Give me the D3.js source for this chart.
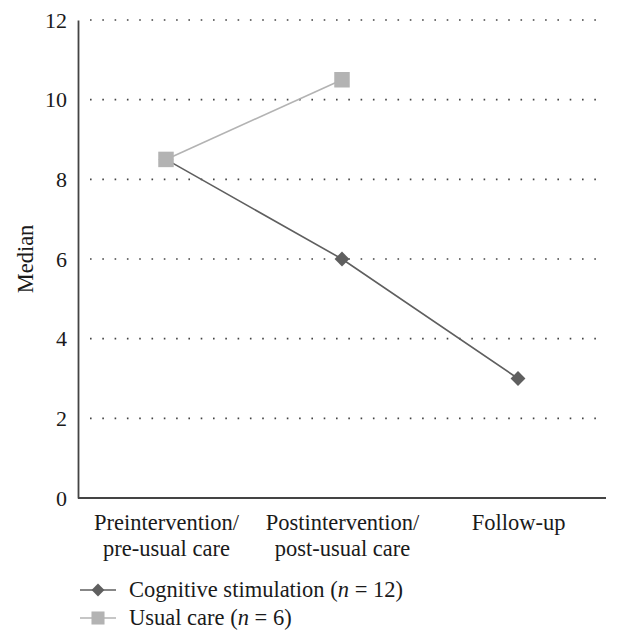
<!DOCTYPE html>
<html><head><meta charset="utf-8">
<script src="https://cdn.jsdelivr.net/npm/d3@7"></script>
<style>body{margin:0;background:#fff;} text{font-family:"Liberation Serif","DejaVu Serif",serif;fill:#1a1a1a;}</style>
</head><body>
<svg id="c" width="619" height="643"></svg>
<script>
const categories = ["Preintervention/|pre-usual care", "Postintervention/|post-usual care", "Follow-up"];
const cognitiveValues = [8.5, 6, 3];
const usualValues = [8.5, 10.5];
const yTicks = [0, 2, 4, 6, 8, 10, 12];
const seriesNames = ["Cognitive stimulation", "Usual care"];
const seriesN = [12, 6];

const svg = d3.select("#c");
const L = 78, R = 606, T = 20, B = 498;
const x = d3.scalePoint().domain(categories).range([L, R]).padding(0.5);
const y = d3.scaleLinear().domain([0, 12]).range([B, T]);

// grid
svg.append("g").selectAll("line").data(yTicks.filter(d => d > 0)).join("line")
  .attr("x1", L + 12).attr("x2", R).attr("y1", d => y(d)).attr("y2", d => y(d))
  .attr("stroke", "#444").attr("stroke-width", 1.6).attr("stroke-dasharray", "1.6,10.7");

// y axis
const ya = svg.append("g").attr("transform", `translate(${L},0)`)
  .call(d3.axisLeft(y).tickValues(yTicks).tickSize(0).tickPadding(11));
ya.select(".domain").attr("stroke", "#444").attr("stroke-width", 1.8);
ya.selectAll("text").attr("font-size", 22).attr("font-family", "Liberation Serif").attr("fill", "#1a1a1a");

// x axis
const xa = svg.append("g").attr("transform", `translate(0,${B})`)
  .call(d3.axisBottom(x).tickSize(0).tickFormat(""));
xa.select(".domain").attr("d", `M${L},0H${R}`).attr("stroke", "#444").attr("stroke-width", 1.8);
xa.selectAll(".tick").each(function(d) {
  const t = d3.select(this).append("text").attr("text-anchor", "middle")
    .attr("font-size", 22.5).attr("fill", "#1a1a1a");
  d.split("|").forEach((s, i) => t.append("tspan").attr("x", 0).attr("y", 32 + i * 26).text(s));
});

// axis title
svg.append("text").attr("transform", `translate(33,${(T + B) / 2}) rotate(-90)`)
  .attr("text-anchor", "middle").attr("font-size", 22.5).text("Median");

const line = d3.line().x((d, i) => x(categories[i])).y(d => y(d));
const cogColor = "#5f5f5f", usualColor = "#b3b3b3";

svg.append("path").datum(cognitiveValues).attr("d", line).attr("fill", "none")
  .attr("stroke", cogColor).attr("stroke-width", 1.6);
svg.append("path").datum(usualValues).attr("d", line).attr("fill", "none")
  .attr("stroke", usualColor).attr("stroke-width", 1.6);

const diamond = d3.symbol().type(d3.symbolDiamond2).size(140);
const square = d3.symbol().type(d3.symbolSquare).size(240);

svg.append("g").selectAll("path").data(cognitiveValues).join("path")
  .attr("d", diamond).attr("fill", cogColor)
  .attr("transform", (d, i) => `translate(${x(categories[i])},${y(d)})`);
svg.append("g").selectAll("path").data(usualValues).join("path")
  .attr("d", square).attr("fill", usualColor)
  .attr("transform", (d, i) => `translate(${x(categories[i])},${y(d)})`);

// legend
const lg = [
  {name: seriesNames[0], n: seriesN[0], color: cogColor, sym: d3.symbol().type(d3.symbolDiamond2).size(105)},
  {name: seriesNames[1], n: seriesN[1], color: usualColor, sym: d3.symbol().type(d3.symbolSquare).size(170)}
];
lg.forEach((d, i) => {
  const yy = 590 + i * 28;
  const g = svg.append("g");
  g.append("line").attr("x1", 80).attr("x2", 116).attr("y1", yy).attr("y2", yy)
    .attr("stroke", d.color).attr("stroke-width", 1.6);
  g.append("path").attr("d", d.sym).attr("fill", d.color).attr("transform", `translate(98,${yy})`);
  const t = g.append("text").attr("x", 129).attr("y", yy + 7).attr("font-size", 22.5);
  t.append("tspan").text(d.name + " (");
  t.append("tspan").attr("font-style", "italic").text("n");
  t.append("tspan").text(" = " + d.n + ")");
});
</script>
</body></html>
